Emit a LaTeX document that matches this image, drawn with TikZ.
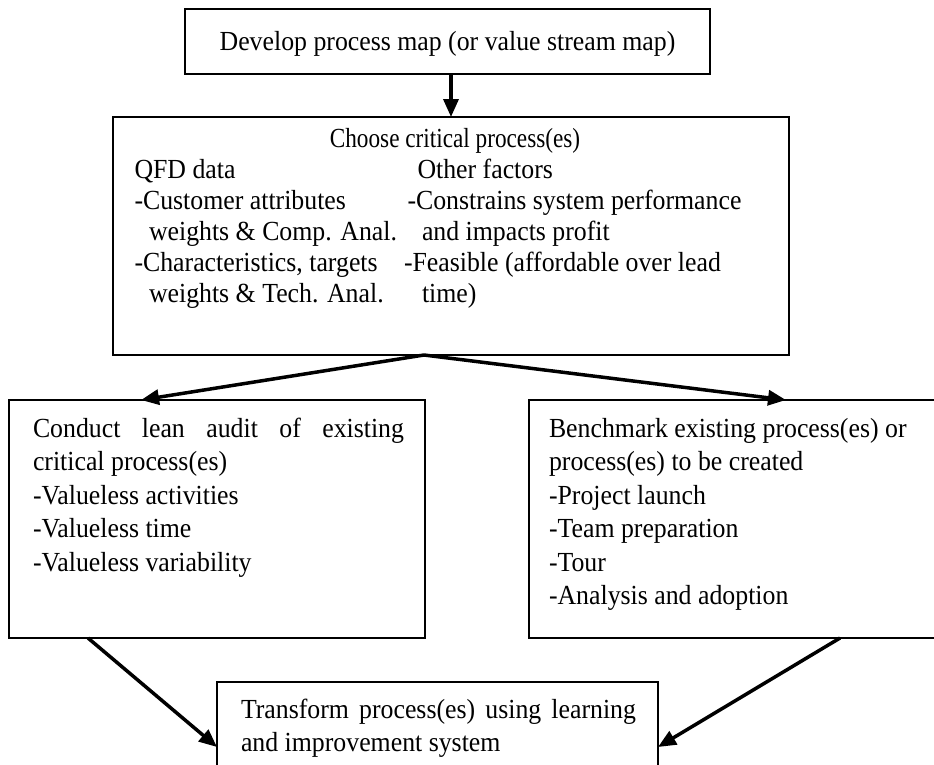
\documentclass[tikz,border=0pt]{standalone}
\usepackage{fontspec}
\setmainfont{Liberation Serif}[FakeStretch=0.935]
\usetikzlibrary{arrows.meta}
\begin{document}
\begin{tikzpicture}[x=1pt,y=-1pt,
  box/.style={draw, rectangle, line width=1.8pt, inner sep=0pt, outer sep=0pt},
  flow/.style={line width=3.5pt, -{Triangle[length=18pt,width=15pt]}},
  txt/.style={anchor=base west, inner sep=0pt, outer sep=0pt, font=\fontsize{27.6}{33.5}\selectfont},
  ctxt/.style={txt, anchor=base}]
\useasboundingbox (0,0) rectangle (934,764);
\clip (0,0) rectangle (934,764);

% boxes
\node[box, minimum width=525pt, minimum height=65pt]  (map)    at (447.5,41.5) {};
\node[box, minimum width=676pt, minimum height=238pt] (choose) at (451,236) {};
\node[box, minimum width=416pt, minimum height=238pt] (audit)  at (217,519) {};
\node[box, minimum width=421pt, minimum height=238pt] (bench)  at (739.5,519) {};
\node[box, minimum width=441pt, minimum height=108pt] (trans)  at (437.5,736) {};

% box texts
\node[ctxt] (tmap) at (447.5,50) {Develop process map (or value stream map)};

\node[ctxt] (tch0) at (455,147) {\scalebox{0.9}[1]{Choose critical process(es)}};
\node[txt] (tl1) at (134.5,178) {QFD data};
\node[txt] (tl2) at (134.5,209) {-Customer attributes};
\node[txt] (tl3) at (149,240) {weights \& Comp. Anal.};
\node[txt] (tl4) at (134.5,271) {-Characteristics, targets};
\node[txt] (tl5) at (149,302) {weights \& Tech. Anal.};
\node[txt] (tr1) at (417.5,178) {Other factors};
\node[txt] (tr2) at (407.5,209) {-Constrains system performance};
\node[txt] (tr3) at (422,240) {and impacts profit};
\node[txt] (tr4) at (404,271) {-Feasible (affordable over lead};
\node[txt] (tr5) at (422,302) {time)};

\node[txt] (ta1) at (33,437) {\makebox[371pt][s]{Conduct lean audit of existing}};
\node[txt] (ta2) at (33,470.5) {critical process(es)};
\node[txt] (ta3) at (33,504) {-Valueless activities};
\node[txt] (ta4) at (33,537.5) {-Valueless time};
\node[txt] (ta5) at (33,571) {-Valueless variability};

\node[txt] (tb1) at (549,437) {Benchmark existing process(es) or};
\node[txt] (tb2) at (549,470.5) {process(es) to be created};
\node[txt] (tb3) at (549,504) {-Project launch};
\node[txt] (tb4) at (549,537.5) {-Team preparation};
\node[txt] (tb5) at (549,571) {-Tour};
\node[txt] (tb6) at (549,604.5) {-Analysis and adoption};

\node[txt] (tt1) at (241,718) {\makebox[395pt][s]{Transform process(es) using learning}};
\node[txt] (tt2) at (241,751.5) {and improvement system};

% connector end points on the box edges
\coordinate (split)  at (424,355);
\coordinate (inA)    at (141,400);
\coordinate (inB)    at (786,400);
\coordinate (outA)   at (88,638);
\coordinate (outB)   at (840,638);
\coordinate (inTl)   at (217,747);
\coordinate (inTr)   at (658,747);

% connectors
\draw[flow] (map.south -| choose.north) -- (choose.north);
\draw[flow] (split) -- (inA);
\draw[flow] (split) -- (inB);
\draw[flow] (outA) -- (inTl);
\draw[flow] (outB) -- (inTr);
\end{tikzpicture}
\end{document}
